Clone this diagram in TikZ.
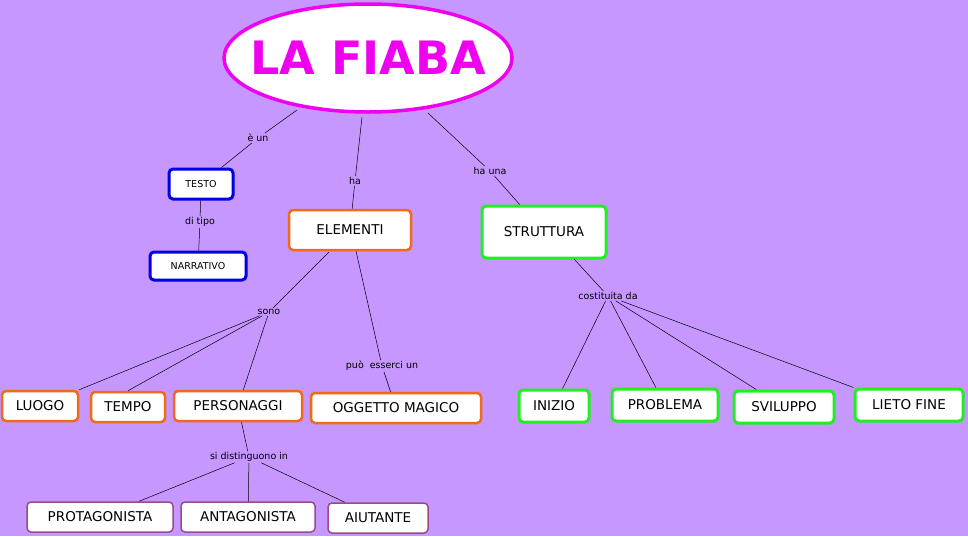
\documentclass[tikz,border=0pt]{standalone}
\usepackage{fontspec}
\setmainfont{DejaVu Sans}
\usetikzlibrary{shapes.geometric}
\definecolor{bg}{HTML}{C597FF}
\definecolor{mag}{HTML}{F000F0}
\definecolor{blu}{HTML}{0000E0}
\definecolor{org}{HTML}{F06A1A}
\definecolor{grn}{HTML}{22EE22}
\definecolor{pur}{HTML}{9A4A8A}
\begin{document}
\begin{tikzpicture}[x=1pt,y=-1pt,
 box/.style={draw,fill=white,rounded corners=4pt,line width=2.5pt,inner sep=0pt,font=\fontsize{13.5}{15}\selectfont},
 bl/.style={box,draw=blu,line width=3pt,font=\fontsize{9.5}{11}\selectfont},
 og/.style={box,draw=org},
 gr/.style={box,draw=grn,line width=3pt},
 pu/.style={box,draw=pur,line width=1.5pt},
 lab/.style={font=\fontsize{9.5}{11}\selectfont,inner sep=1pt},
 ln/.style={draw,line width=0.5pt}]
\fill[bg] (0,0) rectangle (968,536);
\useasboundingbox (0,0) rectangle (968,536);
\node[ellipse,draw=mag,line width=3.5pt,fill=white,minimum width=288,minimum height=108] (fiaba) at (368,58) {};
\node[text=mag,inner sep=0pt,font=\fontsize{46}{50}\selectfont\bfseries] (fiabat) at (fiaba.center) {LA FIABA};
\node[bl,minimum width=64,minimum height=30] (testo) at (201,184) {TESTO};
\node[bl,minimum width=96,minimum height=28] (narr) at (198,266) {NARRATIVO};
\node[og,minimum width=122,minimum height=40] (elem) at (350,230) {ELEMENTI};
\node[gr,minimum width=124,minimum height=52] (strut) at (544,232) {STRUTTURA};
\node[og,minimum width=76,minimum height=30] (luogo) at (40,406) {LUOGO};
\node[og,minimum width=74,minimum height=30] (tempo) at (128,407) {TEMPO};
\node[og,minimum width=128,minimum height=30] (pers) at (238,406) {PERSONAGGI};
\node[og,minimum width=170,minimum height=30] (ogg) at (396,408) {OGGETTO MAGICO};
\node[gr,minimum width=70,minimum height=32] (iniz) at (554,406) {INIZIO};
\node[gr,minimum width=106,minimum height=32] (prob) at (665,405) {PROBLEMA};
\node[gr,minimum width=100,minimum height=32] (svil) at (784,407) {SVILUPPO};
\node[gr,minimum width=108,minimum height=32] (lieto) at (909,405) {LIETO FINE};
\node[pu,minimum width=146,minimum height=30] (prot) at (100,517) {PROTAGONISTA};
\node[pu,minimum width=134,minimum height=30] (ant) at (248,517) {ANTAGONISTA};
\node[pu,minimum width=100,minimum height=30] (aiu) at (378,518) {AIUTANTE};
\node[lab] (l1) at (258,138) {è un};
\node[lab] (l2) at (200,222) {di tipo};
\node[lab] (l3) at (355,181) {ha};
\node[lab] (l4) at (490,171) {ha una};
\node[lab] (l5) at (269,312) {sono};
\node[lab] (l6) at (382,366) {può\ \ esserci un};
\node[lab] (l7) at (608,296) {costituita da};
\node[lab] (l8) at (249,457) {si distinguono in};
\path[ln] (297,110) -- (l1) -- (testo);
\path[ln] (testo) -- (l2) -- (narr);
\path[ln] (362,117) -- (l3) -- (elem);
\path[ln] (428,113) -- (l4) -- (strut);
\path[ln] (329,252) -- (l5);
\path[ln] (l5) -- (luogo.north east);
\path[ln] (l5) -- (tempo.north);
\path[ln] (l5) -- (pers);
\path[ln] (356,251) -- (l6) -- (ogg);
\path[ln] (574,259) -- (l7);
\path[ln] (l7) -- (iniz);
\path[ln] (l7) -- (prob);
\path[ln] (l7) -- (svil);
\path[ln] (l7) -- (lieto.north west);
\path[ln] (pers) -- (l8);
\path[ln] (l8) -- (prot);
\path[ln] (l8) -- (ant);
\path[ln] (l8) -- (aiu);
\end{tikzpicture}
\end{document}
